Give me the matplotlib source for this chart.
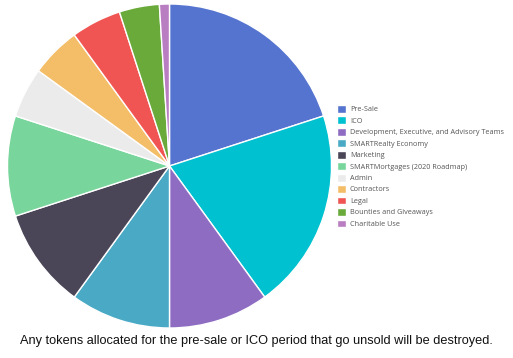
import matplotlib
matplotlib.use("Agg")
import matplotlib.pyplot as plt

labels = ["Pre-Sale", "ICO", "Development, Executive, and Advisory Teams",
          "SMARTRealty Economy", "Marketing", "SMARTMortgages (2020 Roadmap)",
          "Admin", "Contractors", "Legal", "Bounties and Giveaways", "Charitable Use"]
shares = [20, 20, 10, 10, 10, 10, 5, 5, 5, 4, 1]
colors = ["#5574cf", "#00c1d0", "#8d6cc2", "#4aaac6", "#4a4557", "#78d59b",
          "#ebebeb", "#f4bd67", "#f05553", "#69aa3b", "#b97dc2"]

W, H = 513, 358
fig = plt.figure(figsize=(W / 100, H / 100), dpi=100)
cx, cy, r = 169.5, 166, 162
ax = fig.add_axes([(cx - r) / W, (H - cy - r) / H, 2 * r / W, 2 * r / H])
wedges, _ = ax.pie(shares, colors=colors, startangle=90, counterclock=False,
                   radius=1, wedgeprops=dict(edgecolor="white", linewidth=1))
ax.set_xlim(-1, 1); ax.set_ylim(-1, 1)
ax.set_aspect("equal")

fig.legend(wedges, labels, loc="upper left", bbox_to_anchor=(334 / W, 1 - 102 / H),
           frameon=False, handlelength=1.3, handleheight=1.3,
           handletextpad=0.5, labelspacing=0.43, borderaxespad=0,
           prop={"family": "Open Sans", "size": 5.2}, labelcolor="#555555")

fig.text(256 / W, 1 - 341 / H,
         "Any tokens allocated for the pre-sale or ICO period that go unsold will be destroyed.",
         ha="center", va="center", fontsize=9.2, family="Liberation Sans", color="#111111")

fig.savefig("out.png", dpi=100)
